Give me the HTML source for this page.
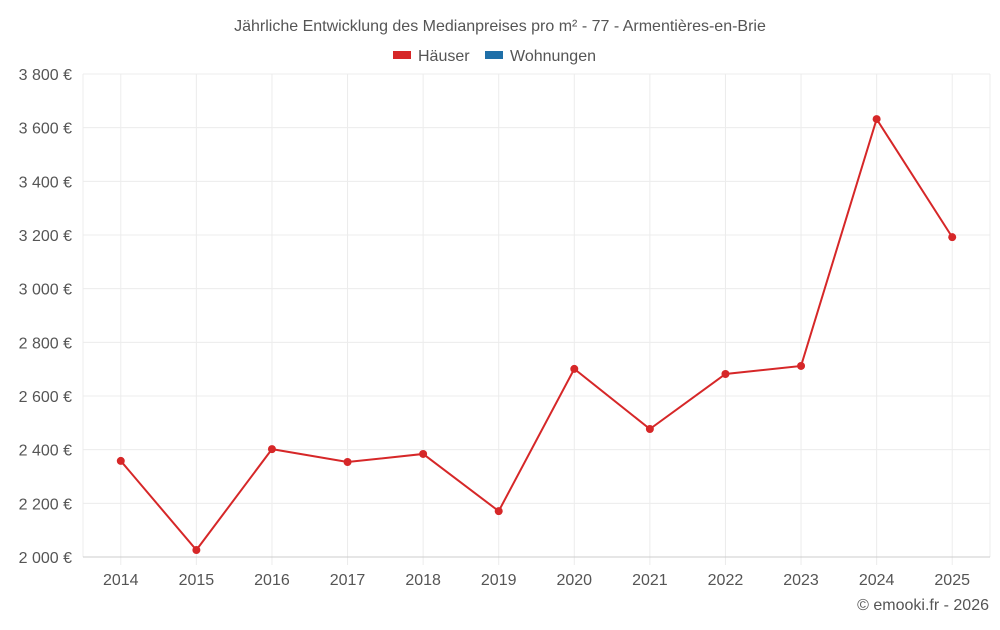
<!DOCTYPE html>
<html><head><meta charset="utf-8"><style>
body{margin:0;background:#fff;font-family:"Liberation Sans",sans-serif;}
svg text{font-family:"Liberation Sans",sans-serif;}
</style></head><body>
<svg width="1000" height="625">
<text x="500" y="31" text-anchor="middle" font-size="16" fill="#555">Jährliche Entwicklung des Medianpreises pro m² - 77 - Armentières-en-Brie</text>
<g>
<g><rect x="393" y="51" width="18" height="8" fill="#d62728"/><text x="418" y="61" font-size="16" fill="#555">Häuser</text></g>
<g><rect x="485" y="51" width="18" height="8" fill="#1f6fa8"/><text x="510" y="61" font-size="16" fill="#555">Wohnungen</text></g>
</g>
<g id="grid"></g>
<g id="yaxis"></g>
<g id="xaxis"></g>
<g id="series"></g>
<text x="989" y="610" text-anchor="end" font-size="16" fill="#555">© emooki.fr - 2026</text>
</svg>
<script>
const years=["2014","2015","2016","2017","2018","2019","2020","2021","2022","2023","2024","2025"];
const haeuser=[2358,2026,2402,2354,2384,2171,2701,2477,2682,2712,3632,3192];
const yTicks=[2000,2200,2400,2600,2800,3000,3200,3400,3600,3800];
const yTickLabels=["2 000 €","2 200 €","2 400 €","2 600 €","2 800 €","3 000 €","3 200 €","3 400 €","3 600 €","3 800 €"];
const L=83,R=990,T=74,B=557,ymin=2000,ymax=3800;
const ns="http://www.w3.org/2000/svg";
const bw=(R-L)/years.length;
const xs=i=>L+bw*(i+0.5);
const ys=v=>B-(v-ymin)/(ymax-ymin)*(B-T);
function mk(t,a,p){const e=document.createElementNS(ns,t);for(const k in a)e.setAttribute(k,a[k]);p.appendChild(e);return e;}
const g=document.getElementById('grid'),ya=document.getElementById('yaxis'),xa=document.getElementById('xaxis'),s=document.getElementById('series');
[L,R].forEach(x=>{
 const l=mk('line',{x1:x,x2:x,y1:T,y2:B,stroke:'#ececec'},g);
 
 
});
years.forEach((y,i)=>{
 const l=mk('line',{x1:xs(i),x2:xs(i),y1:T,y2:B+8,stroke:'#ececec'},g);
 
 
});
yTicks.forEach((v,i)=>{
 const l=mk('line',{x1:L,x2:R,y1:ys(v),y2:ys(v),stroke:i==0?'#ccc':'#ececec'},g);
 
 
 const t=mk('text',{x:72,y:ys(v)+6,'text-anchor':'end','font-size':16,fill:'#555'},ya);
 t.textContent=yTickLabels[i];
 
 
});
years.forEach((y,i)=>{
 const t=mk('text',{x:xs(i),y:585,'text-anchor':'middle','font-size':16,fill:'#555'},xa);
 t.textContent=y;
 
 
});
const p=mk('polyline',{points:haeuser.map((v,i)=>xs(i)+','+ys(v)).join(' '),fill:'none',stroke:'#d62728','stroke-width':2},s);


haeuser.forEach((v,i)=>{
 const c=mk('circle',{cx:xs(i),cy:ys(v),r:4,fill:'#d62728'},s);
 
 
});
</script>
</body></html>
